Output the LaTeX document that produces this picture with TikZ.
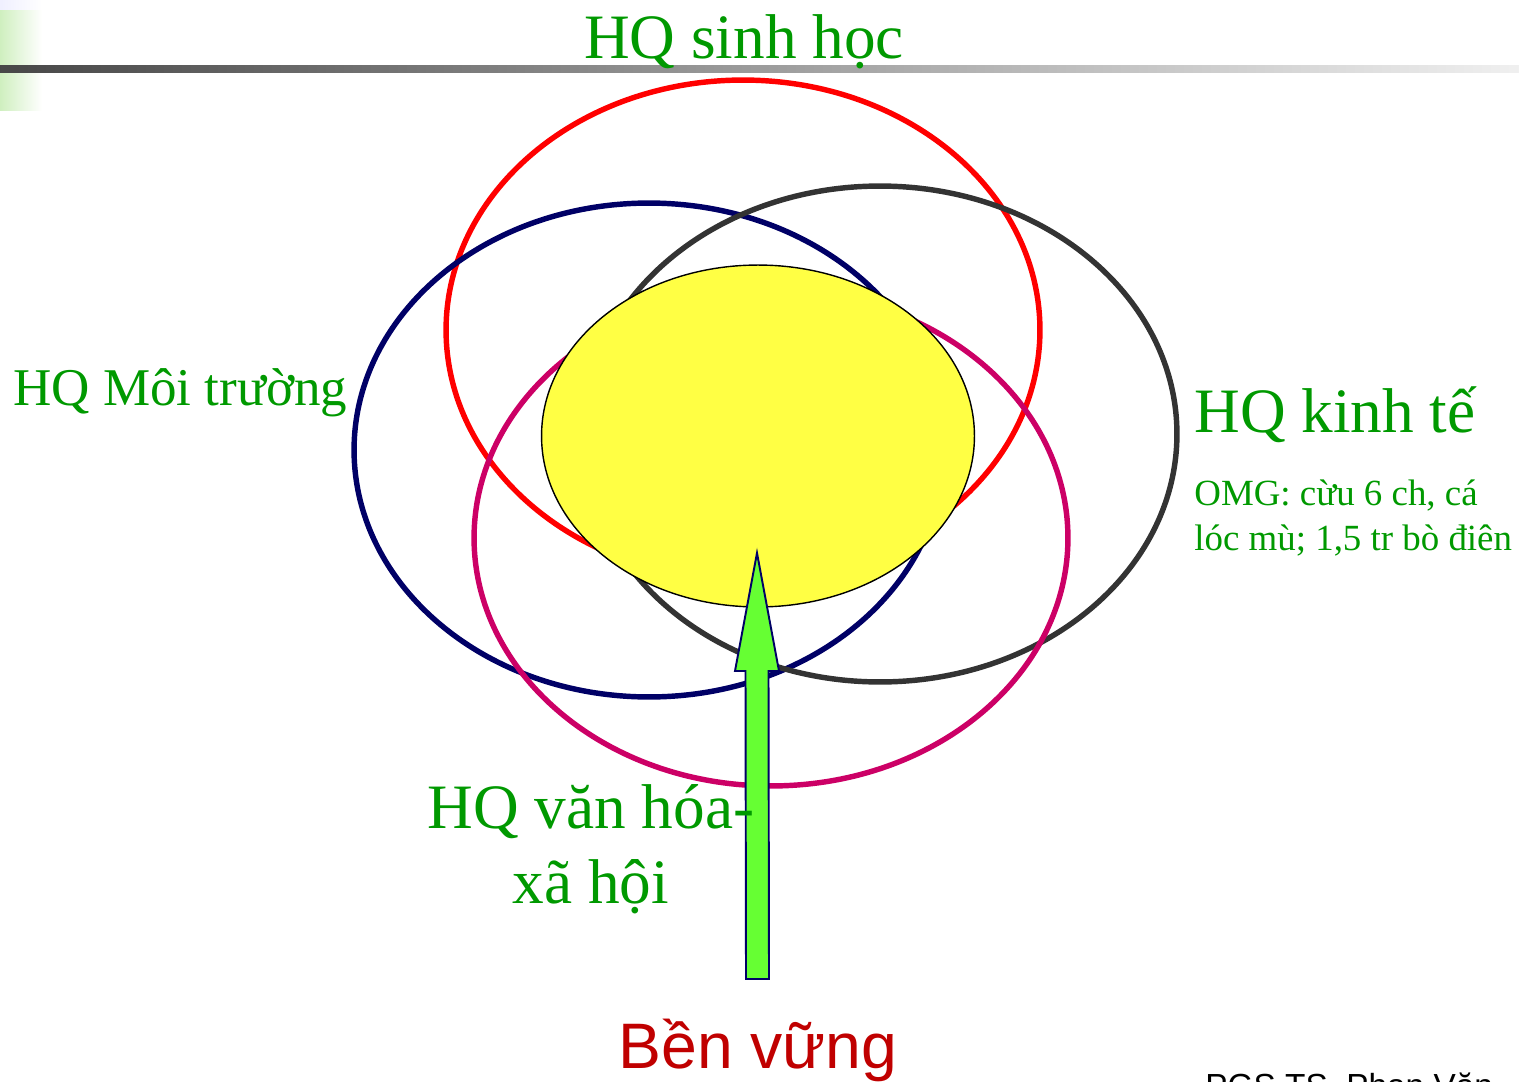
\documentclass[tikz,border=0pt]{standalone}
\usepackage{fontspec}
\setmainfont{Liberation Serif}
\newfontfamily\arialfont{Liberation Sans}
\usetikzlibrary{
    positioning,      % relative placement
    shapes.geometric, % ellipse
    calc              % coordinate arithmetic
}
\definecolor{hqgreen}{HTML}{009900}
\definecolor{hqred}{HTML}{FF0000}
\definecolor{hqnavy}{HTML}{000066}
\definecolor{hqgray}{HTML}{333333}
\definecolor{hqmagenta}{HTML}{CC0066}
\definecolor{hqyellow}{HTML}{FFFF44}
\definecolor{arrowgreen}{HTML}{66FF33}
\definecolor{darkred}{HTML}{C00000}

\begin{document}
\begin{tikzpicture}[
        x=0.02cm, y=-0.02cm,
        ring/.style={
            ellipse,
            draw=#1,
            line width=3.1pt,
            inner sep=0pt
        },
        ring/.default=black,
        hqtext/.style={
            text=hqgreen,
            inner sep=0pt,
            font=\fontsize{36}{43}\selectfont
        },
        bigarrow/.style={
            draw=hqnavy,
            fill=arrowgreen,
            line width=1.1pt,
            line join=miter
        }
    ]
    \useasboundingbox (0,0) rectangle (1519,1082);

    % thanh tiêu đề
    \fill[left color=blue!6, right color=white] (0,0) rectangle (42,10);
    \fill[left color=green!50!olive!25, right color=white] (0,10) rectangle (42,65);
    \fill[left color=green!50!olive!25, right color=white] (0,72) rectangle (42,110);
    \fill[left color=black!72, right color=black!6] (0,65) rectangle (1519,72);

    % các vòng hiệu quả
    \node[ring=hqred, minimum width=11.88cm, minimum height=10cm] (sinhhoc) at (743,330) {};
    \node[ring=hqnavy, minimum width=11.8cm, minimum height=9.88cm] (moitruong) at (649,450) {};
    \node[ring=hqgray, minimum width=11.88cm, minimum height=9.92cm] (kinhte) at (880,434) {};
    \node[ring=hqmagenta, minimum width=11.88cm, minimum height=9.92cm] (vanhoa) at (771,538) {};
    \node[ellipse, draw=black, fill=hqyellow, line width=0.8pt, inner sep=0pt,
          minimum width=8.66cm, minimum height=6.84cm] (benvung) at (758,436) {};

    % mũi tên
    \coordinate (tail) at (757.5,979);
    \coordinate (tip) at (757,553);
    \draw[bigarrow] ($(tail)+(-11.5,0)$) -- ($(tip)+(-11.5,118)$) -- ($(tip)+(-22,118)$)
        -- (tip) -- ($(tip)+(22,118)$) -- ($(tip)+(11.5,118)$) -- ($(tail)+(11.5,0)$) -- cycle;

    % nhãn
    \node[hqtext, anchor=base] (t_sinhhoc) at (744,58) {HQ sinh học};
    \node[hqtext, anchor=base west, font=\fontsize{30.2}{36}\selectfont] (t_moitruong) at (13,405) {HQ Môi trường};
    \node[hqtext, anchor=base west] (t_kinhte) at (1194,432) {HQ kinh tế};
    \node[hqtext, anchor=base west, align=left, font=\fontsize{21}{25.5}\selectfont] (t_omg) at (1194,550)
        {OMG: cừu 6 ch, cá\\lóc mù; 1,5 tr bò điên};
    \node[hqtext, anchor=base, align=center, font=\fontsize{36}{42.5}\selectfont] (t_vanhoa) at (591,903)
        {HQ văn hóa-\\xã hội};
    \node[anchor=base, inner sep=0pt, text=darkred, font=\arialfont\fontsize{36.6}{44}\selectfont] (t_benvung) at (758,1068) {Bền vững};
    \node[anchor=base west, inner sep=0pt, font=\arialfont\fontsize{19}{23}\selectfont] (t_tacgia) at (1205,1097) {PGS.TS. Phan Văn};
\end{tikzpicture}
\end{document}
